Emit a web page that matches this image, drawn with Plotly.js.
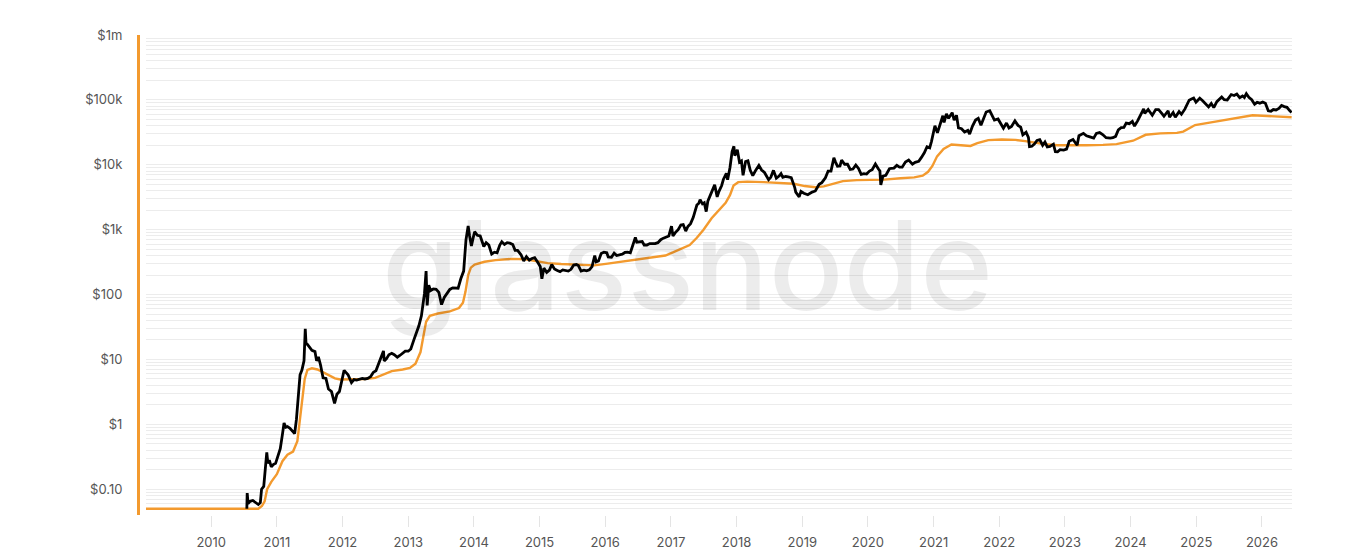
<!DOCTYPE html>
<html>
<head>
<meta charset="utf-8">
<script src="https://cdn.plot.ly/plotly-3.0.1.min.js"></script>
<style>
  html, body { margin: 0; padding: 0; background: #ffffff; }
  #chart { width: 1370px; height: 550px; }
</style>
</head>
<body>
<div id="chart"></div>
<script>
// ---- Data ----
const priceDates = [
  '2010-07-18','2010-07-20','2010-07-25','2010-08-05','2010-08-20','2010-09-05','2010-09-20','2010-10-01','2010-10-08','2010-10-20',
  '2010-10-28','2010-11-06','2010-11-12','2010-11-20','2010-12-01','2010-12-12','2010-12-25','2011-01-08','2011-01-20','2011-02-01',
  '2011-02-10','2011-02-20','2011-03-01','2011-03-15','2011-03-30','2011-04-10','2011-04-20','2011-05-01','2011-05-10','2011-05-20',
  '2011-06-01','2011-06-08','2011-06-12','2011-06-20','2011-07-01','2011-07-15','2011-08-01','2011-08-10','2011-08-20','2011-09-01',
  '2011-09-15','2011-10-01','2011-10-15','2011-11-01','2011-11-18','2011-12-01','2011-12-15','2012-01-01','2012-01-10','2012-01-20',
  '2012-02-01','2012-02-20','2012-03-05','2012-03-20','2012-04-05','2012-04-20','2012-05-05','2012-05-20','2012-06-05','2012-06-20',
  '2012-07-05','2012-07-20','2012-08-05','2012-08-16','2012-08-20','2012-09-01','2012-09-15','2012-10-01','2012-10-15','2012-11-01',
  '2012-11-15','2012-12-01','2012-12-15','2013-01-01','2013-01-15','2013-02-01','2013-02-15','2013-03-01','2013-03-15','2013-04-01',
  '2013-04-10','2013-04-16','2013-04-25','2013-05-05','2013-05-20','2013-06-05','2013-06-20','2013-07-05','2013-07-20','2013-08-05',
  '2013-08-20','2013-09-05','2013-09-20','2013-10-05','2013-10-20','2013-11-05','2013-11-18','2013-11-30','2013-12-08','2013-12-18',
  '2013-12-28','2014-01-05','2014-01-20','2014-02-05','2014-02-25','2014-03-10','2014-03-25','2014-04-10','2014-04-25','2014-05-10',
  '2014-05-25','2014-06-05','2014-06-20','2014-07-05','2014-07-20','2014-08-05','2014-08-18','2014-09-01','2014-09-20','2014-10-05',
  '2014-10-20','2014-11-05','2014-11-20','2014-12-05','2014-12-20','2015-01-05','2015-01-14','2015-01-25','2015-02-10','2015-02-25',
  '2015-03-10','2015-03-25','2015-04-10','2015-04-25','2015-05-10','2015-05-25','2015-06-10','2015-06-25','2015-07-10','2015-07-25',
  '2015-08-05','2015-08-20','2015-09-05','2015-09-20','2015-10-05','2015-10-20','2015-11-04','2015-11-12','2015-11-25','2015-12-10',
  '2015-12-25','2016-01-10','2016-01-18','2016-02-05','2016-02-20','2016-03-05','2016-03-20','2016-04-05','2016-04-20','2016-05-05',
  '2016-05-20','2016-06-05','2016-06-17','2016-06-25','2016-07-10','2016-07-25','2016-08-05','2016-08-20','2016-09-05','2016-09-20',
  '2016-10-05','2016-10-20','2016-11-05','2016-11-20','2016-12-05','2016-12-20','2017-01-04','2017-01-12','2017-01-25','2017-02-10',
  '2017-02-25','2017-03-10','2017-03-24','2017-04-05','2017-04-20','2017-05-05','2017-05-25','2017-06-05','2017-06-12','2017-06-25',
  '2017-07-05','2017-07-16','2017-07-25','2017-08-05','2017-08-20','2017-09-01','2017-09-15','2017-09-25','2017-10-10','2017-10-20',
  '2017-11-05','2017-11-12','2017-11-25','2017-12-07','2017-12-17','2017-12-22','2018-01-05','2018-01-17','2018-01-28','2018-02-06',
  '2018-02-20','2018-03-05','2018-03-18','2018-04-01','2018-04-15','2018-05-05','2018-05-20','2018-06-05','2018-06-28','2018-07-10',
  '2018-07-25','2018-08-10','2018-08-25','2018-09-05','2018-09-15','2018-10-01','2018-10-15','2018-11-01','2018-11-20','2018-11-26',
  '2018-12-15','2018-12-25','2019-01-10','2019-02-01','2019-02-25','2019-03-15','2019-04-05','2019-04-20','2019-05-10','2019-05-25',
  '2019-06-10','2019-06-26','2019-07-05','2019-07-16','2019-07-30','2019-08-08','2019-08-25','2019-09-10','2019-09-25','2019-10-10',
  '2019-10-26','2019-11-10','2019-11-25','2019-12-10','2019-12-25','2020-01-10','2020-01-25','2020-02-12','2020-02-28','2020-03-08',
  '2020-03-13','2020-03-25','2020-04-10','2020-04-30','2020-05-10','2020-05-25','2020-06-10','2020-06-25','2020-07-10','2020-07-28',
  '2020-08-15','2020-09-05','2020-09-20','2020-10-10','2020-10-25','2020-11-10','2020-11-25','2020-12-10','2020-12-20','2021-01-08',
  '2021-01-22','2021-02-08','2021-02-21','2021-02-28','2021-03-13','2021-03-25','2021-04-14','2021-04-25','2021-05-08','2021-05-19',
  '2021-06-05','2021-06-22','2021-07-10','2021-07-20','2021-08-05','2021-08-22','2021-09-06','2021-09-21','2021-10-05','2021-10-20',
  '2021-11-09','2021-11-25','2021-12-05','2021-12-25','2022-01-10','2022-01-24','2022-02-10','2022-02-24','2022-03-10','2022-03-29',
  '2022-04-15','2022-04-30','2022-05-12','2022-05-30','2022-06-12','2022-06-18','2022-07-01','2022-07-15','2022-07-30','2022-08-14',
  '2022-08-30','2022-09-12','2022-09-25','2022-10-10','2022-10-29','2022-11-09','2022-11-21','2022-12-05','2022-12-25','2023-01-10',
  '2023-01-25','2023-02-15','2023-03-10','2023-03-20','2023-04-14','2023-05-01','2023-05-20','2023-06-10','2023-06-25','2023-07-13',
  '2023-07-30','2023-08-18','2023-09-10','2023-09-25','2023-10-10','2023-10-25','2023-11-10','2023-11-25','2023-12-08','2023-12-25',
  '2024-01-11','2024-01-23','2024-02-10','2024-02-28','2024-03-14','2024-03-20','2024-04-08','2024-04-20','2024-05-01','2024-05-20',
  '2024-06-05','2024-06-25','2024-07-05','2024-07-28','2024-08-05','2024-08-25','2024-09-06','2024-09-27','2024-10-10','2024-10-29',
  '2024-11-12','2024-11-22','2024-12-05','2024-12-17','2024-12-30','2025-01-20','2025-02-05','2025-02-28','2025-03-10','2025-03-25',
  '2025-04-08','2025-04-25','2025-05-10','2025-05-22','2025-06-05','2025-06-22','2025-07-14','2025-07-30','2025-08-14','2025-08-30',
  '2025-09-15','2025-09-25','2025-10-06','2025-10-20','2025-11-05','2025-11-21','2025-12-05','2025-12-20','2026-01-05','2026-01-20',
  '2026-02-05','2026-02-20','2026-03-05','2026-03-20','2026-04-05','2026-04-20','2026-05-05','2026-05-20','2026-06-05','2026-06-15'
];
const priceValues = [
  0.05,0.087,0.06,0.065,0.067,0.062,0.058,0.062,0.10,0.11,
  0.19,0.37,0.25,0.28,0.22,0.24,0.25,0.32,0.42,0.70,
  1.05,0.90,0.92,0.87,0.79,0.72,1.2,3.4,5.8,6.8,
  9.5,29.6,18,17,15.4,13.8,13.2,9.5,11,8.2,
  5.2,5.1,3.5,3.2,2.1,2.9,3.2,5.2,6.8,6.3,
  5.8,4.4,4.9,4.8,4.9,5.1,5.0,5.1,5.4,6.3,
  6.7,8.5,11,13.5,9.5,10.2,11.8,12.4,11.8,10.8,
  11.5,12.6,13.4,13.4,14.5,20,26,33,47,104,
  230,68,140,115,122,120,108,70,90,105,
  120,127,125,125,175,230,700,1140,800,560,
  750,930,820,800,550,630,580,420,450,440,
  580,650,590,630,620,590,480,480,410,330,
  385,340,360,370,320,270,175,255,220,238,
  290,248,235,226,240,238,230,245,285,290,
  280,230,238,232,240,270,400,320,330,430,
  450,440,380,375,435,400,410,420,445,450,
  440,580,760,640,650,655,580,580,610,605,
  610,630,700,740,760,800,1130,800,900,1000,
  1180,1200,950,1120,1240,1550,2400,2550,2900,2500,
  2600,1900,2750,3200,4100,4900,3200,3900,4800,6000,
  7400,5900,9000,16000,19300,13800,17000,11000,11500,6900,
  11200,11500,8200,6800,8000,9800,8300,7600,5900,6400,
  8200,6200,6700,7300,6400,6600,6500,6350,4500,3800,
  3200,3900,3650,3450,3800,3950,5000,5300,6300,8000,
  8000,12800,11000,9500,9600,11800,10200,10200,8500,8600,
  9900,8800,7100,7300,7200,8000,8400,10300,8700,8000,
  4900,6700,6900,8700,8800,8900,9800,9200,9200,11000,
  11800,10200,10900,11300,13000,15300,19000,18300,23000,40000,
  31000,46000,57000,45000,61000,52000,63500,49000,58000,37000,
  36000,32000,33800,29800,39500,49000,52000,40800,51000,65000,
  68000,57000,49000,50800,41800,36500,44000,37000,39000,47500,
  40500,38000,29000,31700,26500,19000,19300,20800,23800,24400,
  20000,22400,18900,19200,20800,15900,15800,17100,16800,17400,
  23000,24500,20000,28000,30500,28000,26900,25800,30500,31400,
  29300,26100,25800,26200,27400,34500,37300,37700,44000,43000,
  46500,39500,48000,62000,73000,62000,71000,64000,58000,71000,
  71000,61000,56000,68000,54000,64000,54000,66000,60000,72000,
  88000,99000,103000,107000,92000,106000,97000,84000,78000,88000,
  76000,94000,104000,111000,101000,100000,121000,117000,123000,108000,
  115000,109000,125000,110000,101000,86000,92000,89000,93000,89000,
  68000,67000,71000,70000,74000,82000,79000,77000,68000,64000
];

const rpDates = [
  '2009-01-03','2010-09-20','2010-10-10','2010-10-25','2010-11-08','2010-12-01','2011-01-01','2011-02-01','2011-03-01','2011-04-01',
  '2011-04-25','2011-05-10','2011-05-25','2011-06-05','2011-06-20','2011-07-15','2011-08-15','2011-09-15','2011-10-15','2011-11-20',
  '2011-12-20','2012-02-01','2012-05-01','2012-07-01','2012-08-01','2012-10-01','2012-12-01','2013-01-10','2013-02-10','2013-03-10',
  '2013-03-25','2013-04-10','2013-05-01','2013-06-15','2013-08-20','2013-10-10','2013-11-01','2013-11-15','2013-11-30','2013-12-15',
  '2014-01-05','2014-03-01','2014-05-01','2014-08-01','2014-10-15','2014-12-15','2015-02-15','2015-05-01','2015-08-01','2015-11-01',
  '2016-01-15','2016-04-01','2016-06-15','2016-08-15','2016-10-15','2016-12-01','2017-01-15','2017-03-01','2017-04-15','2017-05-25',
  '2017-07-01','2017-08-15','2017-09-25','2017-11-01','2017-11-25','2017-12-15','2018-01-10','2018-03-01','2018-06-01','2018-09-01',
  '2018-11-15','2019-01-15','2019-03-15','2019-05-01','2019-06-15','2019-08-15','2019-11-01','2020-02-01','2020-04-01','2020-07-01',
  '2020-09-15','2020-11-01','2020-12-01','2020-12-25','2021-01-20','2021-02-25','2021-04-10','2021-06-01','2021-07-25','2021-09-01',
  '2021-11-01','2022-01-15','2022-04-01','2022-05-25','2022-07-15','2022-09-15','2022-11-20','2023-02-01','2023-05-01','2023-08-01',
  '2023-10-15','2024-01-15','2024-03-25','2024-06-15','2024-09-15','2024-10-20','2024-11-25','2024-12-25','2025-04-01','2025-07-25',
  '2025-11-10','2026-02-01','2026-04-01','2026-06-15'
];
const rpValues = [
  0.05,0.05,0.055,0.065,0.10,0.13,0.17,0.27,0.34,0.38,
  0.55,1.3,3.0,5.0,6.9,7.3,7.0,6.3,5.7,5.1,
  4.9,4.9,5.0,5.2,5.6,6.6,7.0,7.4,8.6,13,
  22,38,47,51,55,62,75,110,200,260,
  290,320,340,355,350,330,305,295,285,282,
  300,320,345,360,375,400,450,510,580,750,
  1000,1500,2000,2600,3400,4800,5400,5500,5400,5300,
  5100,4700,4500,4650,5000,5600,5800,5900,5900,6200,
  6400,6800,7800,9600,13500,17500,20500,20000,19500,21500,
  24000,24500,24200,23200,21800,20700,20000,19800,20000,20300,
  20800,23500,29000,30500,31000,32500,37500,41000,45500,52000,
  58000,56500,55000,54000
];

const yDecades = [0.01, 0.1, 1, 10, 100, 1000, 10000, 100000, 1000000];
const yDecadeLabels = ['$0.01', '$0.10', '$1', '$10', '$100', '$1k', '$10k', '$100k', '$1m'];
const xRange = ['2009-01-03', '2026-06-17'];
const yMin = 0.04, yMax = 1000000;

// ---- Build gridline ticks (decades labelled, 2..9 unlabelled) ----
const tickvals = [], ticktext = [];
yDecades.forEach((d, i) => {
  for (let m = 1; m <= 9; m++) {
    const v = m * d;
    if (v >= yMin * 0.999 && v <= yMax * 1.001) {
      tickvals.push(v);
      ticktext.push(m === 1 ? yDecadeLabels[i] : '');
    }
    if (d === yMax) break;
  }
});

const orange = '#f39a2e';

const traces = [
  { x: rpDates, y: rpValues, type: 'scatter', mode: 'lines', name: 'Realized Price',
    line: { color: orange, width: 2.4 }, hoverinfo: 'skip' },
  { x: priceDates, y: priceValues, type: 'scatter', mode: 'lines', name: 'Price',
    line: { color: '#000000', width: 2.8 }, hoverinfo: 'skip' }
];

const layout = {
  width: 1370, height: 550,
  margin: { l: 138, r: 78, t: 35, b: 35 },
  paper_bgcolor: '#ffffff', plot_bgcolor: '#ffffff',
  showlegend: false,
  font: { family: 'Inter, "Open Sans", sans-serif', color: '#555555', size: 13 },
  xaxis: {
    type: 'date', range: xRange, domain: [0.0069, 1],
    tick0: '2010-01-01', dtick: 'M12', tickformat: '%Y',
    ticks: 'outside', ticklen: 11, tickcolor: '#e4e4e4', tickwidth: 1,
    ticklabelstandoff: 4,
    showgrid: false, zeroline: false, showline: false,
    tickfont: { size: 13, color: '#555555' }
  },
  yaxis: {
    type: 'log', range: [Math.log10(yMin), Math.log10(yMax) + 0.0005],
    anchor: 'free', position: 0,
    tickmode: 'array', tickvals: tickvals, ticktext: ticktext,
    ticks: '', ticklabelstandoff: 12,
    showgrid: true, gridcolor: '#ececec', gridwidth: 1,
    zeroline: false,
    showline: true, linecolor: orange, linewidth: 2.5,
    tickfont: { size: 13, color: '#555555' }
  },
  annotations: [{
    text: 'glassnode', xref: 'paper', yref: 'paper', x: 0.476, y: 0.52,
    xanchor: 'center', yanchor: 'middle', showarrow: false,
    font: { family: 'Inter, "Open Sans", sans-serif', size: 124, color: 'rgba(0,0,0,0.075)', weight: 500 }
  }]
};

Plotly.newPlot('chart', traces, layout, { staticPlot: true, displayModeBar: false });
</script>
</body>
</html>
